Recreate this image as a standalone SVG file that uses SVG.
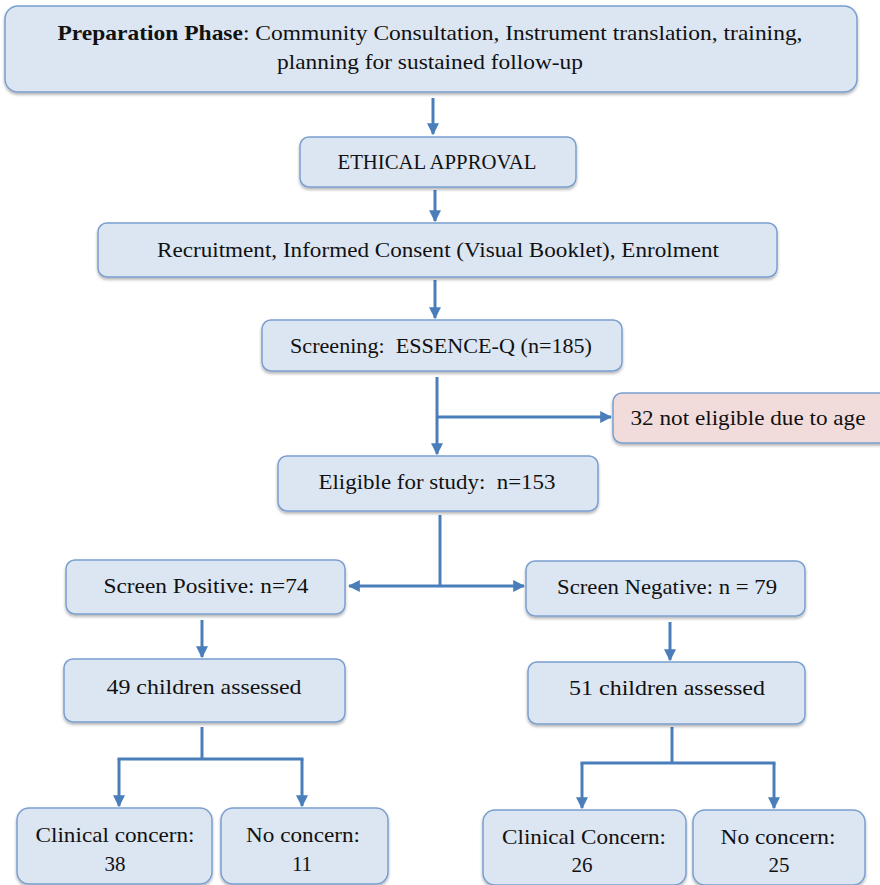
<svg xmlns="http://www.w3.org/2000/svg" width="880" height="885" viewBox="0 0 880 885">
<style>
.box{fill:#dce6f2;stroke:#7a9fcf;stroke-width:1.5;filter:url(#sh)}
.pink{fill:#f2dcdb;stroke:#7a9fcf;stroke-width:1.5;filter:url(#sh)}
text{font-family:"Liberation Serif","DejaVu Serif",serif;font-size:21px;fill:#111;text-anchor:middle;dominant-baseline:central;white-space:pre}
.c{fill:none;stroke:#4a7ebb;stroke-width:3}
.a{marker-end:url(#ah)}
</style>
<defs>
<filter id="sh" x="-5%" y="-10%" width="110%" height="130%"><feDropShadow dx="0" dy="2" stdDeviation="1.5" flood-color="#000" flood-opacity="0.3"/></filter>
<marker id="ah" viewBox="0 0 10 10" refX="9" refY="5" markerWidth="4" markerHeight="4" orient="auto" markerUnits="strokeWidth"><path d="M0,0 L10,5 L0,10 z" fill="#4a7ebb"/></marker>
</defs>
<g id="connectors">
<line class="c a" x1="433" y1="98" x2="433" y2="134"/>
<line class="c a" x1="435" y1="190" x2="435" y2="221"/>
<line class="c a" x1="435" y1="280" x2="435" y2="318"/>
<line class="c a" x1="437" y1="377" x2="437" y2="454"/>
<line class="c a" x1="437" y1="417" x2="611" y2="417"/>
<line class="c" x1="440" y1="515" x2="440" y2="586"/>
<line class="c a" x1="440" y1="586" x2="349" y2="586"/>
<line class="c a" x1="440" y1="586" x2="524" y2="586"/>
<line class="c a" x1="202" y1="620" x2="202" y2="657"/>
<line class="c a" x1="670" y1="622" x2="670" y2="660"/>
<line class="c" x1="202" y1="727" x2="202" y2="759"/>
<line class="c" x1="117.5" y1="759" x2="303.5" y2="759"/>
<line class="c a" x1="119" y1="759" x2="119" y2="806"/>
<line class="c a" x1="302" y1="759" x2="302" y2="806"/>
<line class="c" x1="672" y1="727" x2="672" y2="763"/>
<line class="c" x1="580.5" y1="763" x2="775.5" y2="763"/>
<line class="c a" x1="582" y1="763" x2="582" y2="808"/>
<line class="c a" x1="774" y1="763" x2="774" y2="808"/>
</g>
<g id="prep"><rect class="box" x="5" y="6" width="852" height="86" rx="13"/>
<text x="430" y="33" textLength="745" lengthAdjust="spacingAndGlyphs"><tspan font-weight="bold">Preparation Phase</tspan>: Community Consultation, Instrument translation, training,</text>
<text x="430" y="62" textLength="306" lengthAdjust="spacingAndGlyphs">planning for sustained follow-up</text></g>
<g id="ethics"><rect class="box" x="300" y="137" width="276" height="50" rx="9"/>
<text x="437" y="162" textLength="199" lengthAdjust="spacingAndGlyphs">ETHICAL APPROVAL</text></g>
<g id="recruit"><rect class="box" x="98" y="223" width="679" height="54" rx="9"/>
<text x="438" y="250" textLength="562" lengthAdjust="spacingAndGlyphs">Recruitment, Informed Consent (Visual Booklet), Enrolment</text></g>
<g id="screening"><rect class="box" x="262" y="320" width="360" height="51" rx="9"/>
<text x="441" y="346" textLength="302" lengthAdjust="spacingAndGlyphs" xml:space="preserve">Screening:  ESSENCE-Q (n=185)</text></g>
<g id="notelig"><rect class="pink" x="613" y="393" width="275" height="50" rx="9"/>
<text x="748" y="418" textLength="235" lengthAdjust="spacingAndGlyphs">32 not eligible due to age</text></g>
<g id="eligible"><rect class="box" x="278" y="456" width="320" height="55" rx="9"/>
<text x="437" y="482" textLength="237" lengthAdjust="spacingAndGlyphs" xml:space="preserve">Eligible for study:  n=153</text></g>
<g id="pos"><rect class="box" x="66" y="560" width="279" height="54" rx="9"/>
<text x="206" y="586" textLength="205" lengthAdjust="spacingAndGlyphs">Screen Positive: n=74</text></g>
<g id="neg"><rect class="box" x="526" y="561" width="279" height="55" rx="9"/>
<text x="667" y="587" textLength="220" lengthAdjust="spacingAndGlyphs">Screen Negative: n = 79</text></g>
<g id="ass49"><rect class="box" x="64" y="659" width="281" height="63" rx="9"/>
<text x="204" y="687" textLength="195" lengthAdjust="spacingAndGlyphs">49 children assessed</text></g>
<g id="ass51"><rect class="box" x="528" y="662" width="277" height="62" rx="9"/>
<text x="667" y="688" textLength="196" lengthAdjust="spacingAndGlyphs">51 children assessed</text></g>
<g id="cc38"><rect class="box" x="17" y="808" width="195" height="76" rx="12"/>
<text x="115" y="835" textLength="159" lengthAdjust="spacingAndGlyphs">Clinical concern:</text><text x="115" y="864">38</text></g>
<g id="nc11"><rect class="box" x="221" y="808" width="167" height="76" rx="12"/>
<text x="303" y="835" textLength="114" lengthAdjust="spacingAndGlyphs">No concern:</text><text x="302" y="864">11</text></g>
<g id="cc26"><rect class="box" x="483" y="810" width="203" height="75" rx="12"/>
<text x="584" y="837" textLength="164" lengthAdjust="spacingAndGlyphs">Clinical Concern:</text><text x="582" y="865">26</text></g>
<g id="nc25"><rect class="box" x="693" y="810" width="172" height="75" rx="12"/>
<text x="778" y="837" textLength="115" lengthAdjust="spacingAndGlyphs">No concern:</text><text x="779" y="865">25</text></g>
</svg>
